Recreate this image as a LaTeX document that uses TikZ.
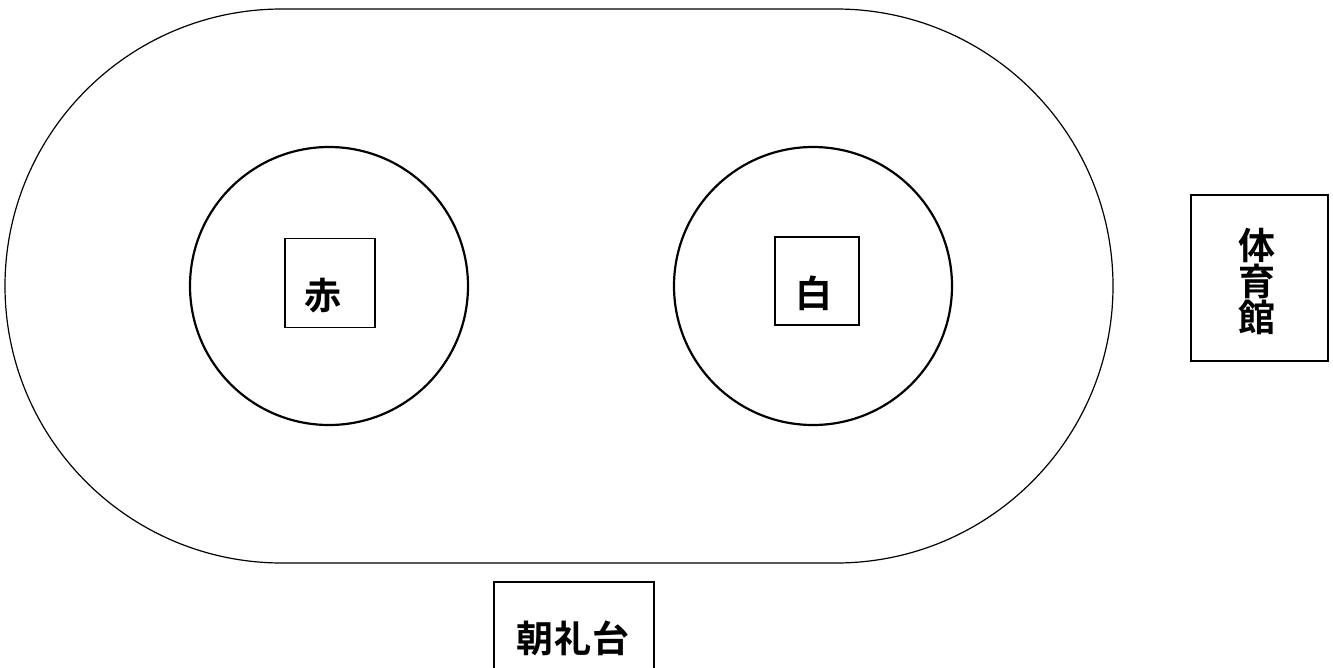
\documentclass[tikz,border=0pt]{standalone}
\usepackage{fontspec}
\newfontfamily\jp{Noto Sans CJK JP}[BoldFont={* Bold}]
\begin{document}
\begin{tikzpicture}[x=1pt,y=-1pt,
  track/.style={line width=1.2pt},
  ring/.style={line width=2.2pt},
  box/.style={draw,line width=1.2pt,inner sep=0pt},
  lbl/.style={font=\jp\bfseries\fontsize{37}{40}\selectfont,inner sep=0pt}]
\useasboundingbox (0,0) rectangle (1333,667);
% track
\draw[track] (282,9) -- (836,9) arc[start angle=90,end angle=-90,radius=277pt] -- (282,563) arc[start angle=270,end angle=90,radius=277pt] -- cycle;
% circles
\draw[ring] (329,286) circle[radius=139pt];
\draw[ring] (813,286) circle[radius=139pt];
% boxes
\node[box,minimum width=90pt,minimum height=89pt] (akabox) at (330,283) {};
\node[lbl] (aka) at (323,296) {赤};
\node[box,minimum width=84pt,minimum height=88pt] (shirobox) at (817,281) {};
\node[lbl] (shiro) at (814,293) {白};
\node[box,minimum width=137pt,minimum height=166pt] (gymbox) at (1259.5,278) {};
\node[lbl,align=center,font=\jp\bfseries\fontsize{37}{36}\selectfont] (gym) at (1257,282) {体\\育\\館};
\draw[line width=1.2pt] (494,680) -- (494,582) -- (654,582) -- (654,680);
\node[lbl] (stage) at (573,638) {朝\hspace{1pt}礼\hspace{1pt}台};
\end{tikzpicture}
\end{document}
